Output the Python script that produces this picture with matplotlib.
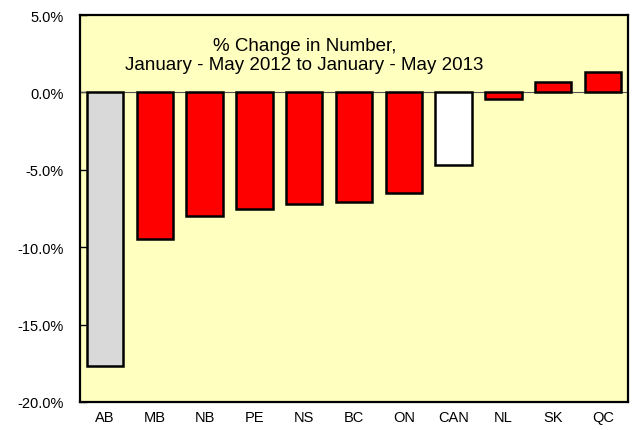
import matplotlib.pyplot as plt
import numpy as np
from matplotlib.ticker import FuncFormatter, MultipleLocator

plt.rcParams['font.family'] = ['Liberation Sans', 'DejaVu Sans']

# Дані
provinces = ['AB', 'MB', 'NB', 'PE', 'NS', 'BC', 'ON', 'CAN', 'NL', 'SK', 'QC']
pct_change = [-17.7, -9.5, -8.0, -7.5, -7.2, -7.1, -6.5, -4.7, -0.4, 0.7, 1.3]
bar_colors = ['#d9d9d9', 'red', 'red', 'red', 'red', 'red', 'red', 'white', 'red', 'red', 'red']

fig = plt.figure(figsize=(6.32, 4.31), dpi=100)
ax = fig.add_axes([80 / 632, 28 / 431, 548 / 632, 387 / 431])
ax.set_facecolor('#ffffc0')

x = np.arange(len(provinces))
ax.bar(x, pct_change, width=0.73, color=bar_colors, edgecolor='black', linewidth=1.8, zorder=3)
ax.axhline(0, color='#555555', linewidth=0.8, zorder=2)

ax.set_xlim(-0.5, len(provinces) - 0.5)
ax.set_ylim(-20, 5)
ax.yaxis.set_major_locator(MultipleLocator(5))
ax.yaxis.set_major_formatter(FuncFormatter(lambda v, p: f'{v:.1f}%'))
ax.set_xticks(x)
ax.set_xticklabels(provinces)
ax.tick_params(axis='y', direction='in', length=5, width=1, labelsize=10.5, pad=12)
ax.tick_params(axis='x', length=0, labelsize=10.5, pad=6)

for s in ax.spines.values():
    s.set_linewidth(1.6)

ax.text(0.41, 0.897, '% Change in Number,\nJanuary - May 2012 to January - May 2013',
        transform=ax.transAxes, ha='center', va='center', fontsize=13.5, linespacing=1.2)

fig.savefig('out.png', dpi=100)
